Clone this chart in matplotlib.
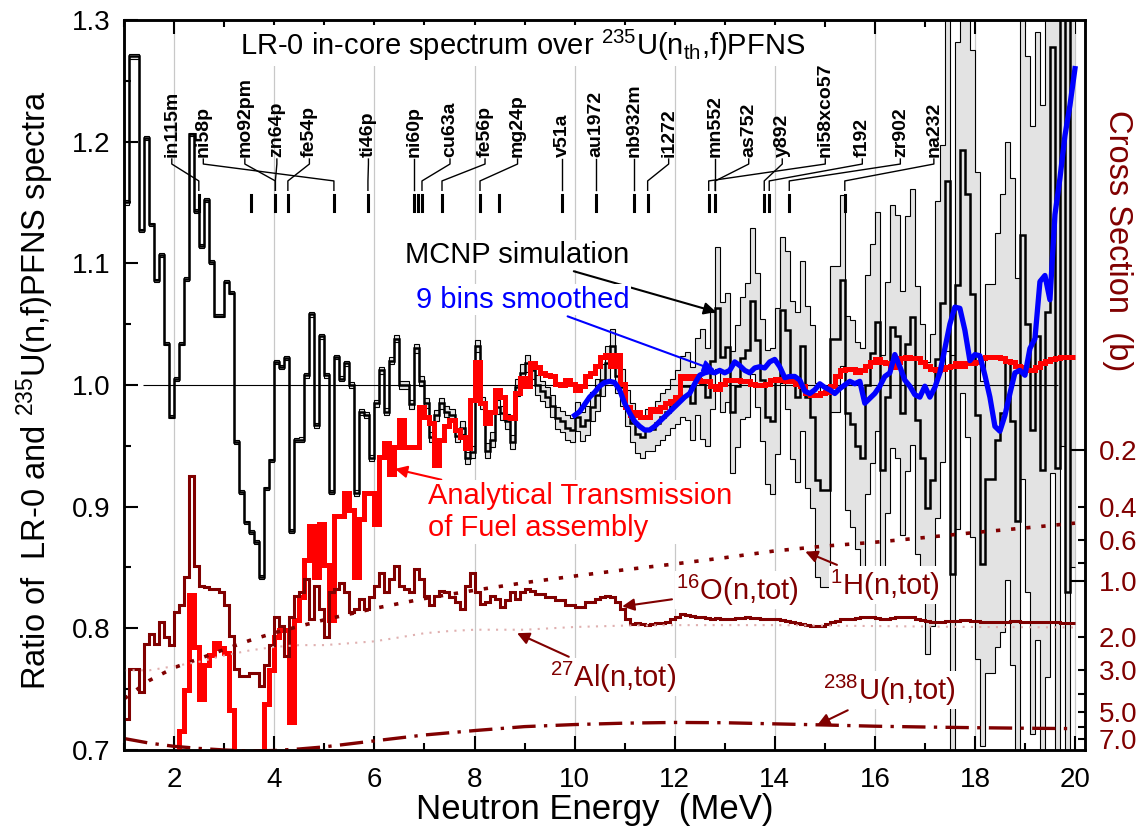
import numpy as np
import matplotlib
matplotlib.use('Agg')
import matplotlib.pyplot as plt
from matplotlib.ticker import FixedLocator, FixedFormatter, MultipleLocator, FormatStrFormatter

plt.rcParams['font.family'] = ['Liberation Sans', 'DejaVu Sans']
plt.rcParams['mathtext.fontset'] = 'custom'
plt.rcParams['mathtext.rm'] = 'Liberation Sans'
plt.rcParams['mathtext.it'] = 'Liberation Sans:italic'
plt.rcParams['mathtext.bf'] = 'Liberation Sans:bold'

DRED = '#800000'

# ---- MCNP ratio, 0.1 MeV bins from 1.0 to 20.0
mcnp = [
    1.15, 1.27, 1.27, 1.127, 1.203, 1.132, 1.086, 1.107, 1.034, 0.974,
    1.005, 1.034, 1.087, 1.206, 1.143, 1.114, 1.152, 1.101, 1.057, 1.057,
    1.085, 1.076, 0.953, 0.912, 0.887, 0.879, 0.871, 0.842, 0.915, 0.938,
    1.019, 1.015, 1.022, 0.880, 0.955, 0.955, 1.008, 1.058, 0.967, 1.040,
    1.008, 0.912, 1.023, 1.005, 1.018, 1.000, 0.911, 0.978, 0.975, 0.940,
    0.985, 1.012, 0.978, 1.020, 1.038, 1.000, 1.000, 0.984, 1.030, 1.003,
    0.985, 0.957, 0.975, 0.985, 0.978, 0.975, 0.958, 0.965, 0.940, 0.945,
    1.032, 0.985, 0.946, 0.955, 0.982, 0.977, 0.970, 0.953, 0.998, 1.010,
    1.018, 1.012, 1.000, 0.995, 0.990, 0.983, 0.973, 0.970, 0.965, 0.963,
    0.974, 0.966, 0.971, 0.982, 0.992, 1.004, 1.018, 1.032, 1.007, 0.998,
    0.981, 0.969, 0.960, 0.957, 0.963, 0.964, 0.969, 0.974, 0.978, 0.985,
    0.990, 0.999, 0.999, 0.985, 1.007, 1.001, 0.990, 1.020, 1.063, 1.023,
    1.031, 0.978, 0.999, 1.022, 1.029, 1.069, 1.037, 1.004, 0.974, 0.970,
    1.003, 1.062, 1.045, 1.004, 0.990, 1.032, 0.990, 0.974, 0.922, 0.914,
    0.914, 1.038, 1.038, 1.086, 0.977, 0.968, 0.950, 0.940, 1.000, 1.026,
    1.052, 0.930, 0.990, 1.048, 1.040, 0.977, 1.034, 1.056, 0.971, 0.940,
    0.899, 0.922, 1.021, 1.067, 1.168, 0.845, 1.082, 1.193, 1.157, 1.075,
    0.975, 0.853, 0.923, 0.923, 0.955, 0.977, 1.020, 0.970, 0.888, 1.123,
    1.050, 0.963, 1.040, 0.930, 1.060, 1.278, 0.932, 1.350, 0.830, 1.350,
]
mcnp_err = [
    0.002, 0.002, 0.002, 0.0015, 0.0015, 0.0015, 0.0015, 0.0015, 0.0015, 0.0015,
    0.0015, 0.0015, 0.0015, 0.0015, 0.0015, 0.0015, 0.0015, 0.0015, 0.0015, 0.0015,
    0.0015, 0.0015, 0.0015, 0.0015, 0.0015, 0.0015, 0.0015, 0.0015, 0.0015, 0.0015,
    0.0015, 0.0015, 0.0015, 0.0015, 0.0015, 0.002, 0.002, 0.002, 0.002, 0.002,
    0.002, 0.002, 0.002, 0.002, 0.002, 0.0025, 0.0025, 0.0025, 0.0025, 0.0025,
    0.003, 0.003, 0.003, 0.003, 0.003, 0.0035, 0.0035, 0.0035, 0.0035, 0.004,
    0.004, 0.004, 0.0045, 0.0045, 0.0045, 0.005, 0.005, 0.005, 0.005, 0.005,
    0.005, 0.005, 0.006, 0.006, 0.006, 0.006, 0.006, 0.006, 0.007, 0.007,
    0.007, 0.007, 0.008, 0.008, 0.008, 0.009, 0.009, 0.009, 0.010, 0.010,
    0.012, 0.012, 0.012, 0.012, 0.013, 0.013, 0.014, 0.014, 0.014, 0.015,
    0.015, 0.016, 0.016, 0.017, 0.017, 0.018, 0.018, 0.019, 0.019, 0.020,
    0.022, 0.025, 0.028, 0.030, 0.032, 0.045, 0.040, 0.040, 0.050, 0.045,
    0.045, 0.050, 0.050, 0.050, 0.055, 0.060, 0.055, 0.050, 0.055, 0.060,
    0.060, 0.060, 0.065, 0.065, 0.070, 0.070, 0.075, 0.075, 0.080, 0.080,
    0.080, 0.060, 0.060, 0.070, 0.080, 0.085, 0.085, 0.090, 0.090, 0.090,
    0.090, 0.095, 0.095, 0.100, 0.100, 0.100, 0.105, 0.105, 0.110, 0.110,
    0.120, 0.120, 0.130, 0.130, 0.140, 0.180, 0.200, 0.200, 0.200, 0.200,
    0.200, 0.150, 0.160, 0.160, 0.170, 0.180, 0.180, 0.200, 0.200, 0.200,
    0.220, 0.250, 0.250, 0.300, 0.300, 0.350, 0.400, 0.400, 0.500, 0.500,
]

# ---- analytical transmission, 0.1 MeV bins from 2.0 to 20.0
transm = [
    0.650, 0.716, 0.749, 0.827, 0.785, 0.742, 0.770, 0.778, 0.788, 0.784,
    0.780, 0.733, 0.650, 0.650, 0.650, 0.650, 0.650, 0.650, 0.738, 0.766,
    0.793, 0.799, 0.799, 0.723, 0.807, 0.826, 0.856, 0.884, 0.842, 0.886,
    0.852, 0.807, 0.892, 0.892, 0.911, 0.897, 0.842, 0.890, 0.911, 0.911,
    0.886, 0.941, 0.952, 0.927, 0.949, 0.971, 0.949, 0.949, 0.949, 0.982,
    0.974, 0.969, 0.934, 0.955, 0.966, 0.971, 0.963, 0.957, 0.948, 0.988,
    1.019, 0.985, 0.969, 0.978, 0.996, 0.990, 0.974, 0.973, 0.993, 1.006,
    0.999, 1.018, 1.015, 1.010, 1.008, 1.007, 1.001, 1.000, 1.004, 1.001,
    0.996, 0.999, 1.007, 1.010, 1.016, 1.023, 1.025, 1.016, 1.025, 1.001,
    0.982, 0.975, 0.978, 0.974, 0.974, 0.980, 0.979, 0.982, 0.985, 0.987,
    0.990, 1.007, 1.006, 1.007, 1.004, 1.003, 1.003, 0.999, 0.997, 1.001,
    1.004, 1.004, 1.004, 1.003, 1.003, 1.001, 1.000, 1.000, 1.001, 1.004,
    1.005, 1.004, 1.003, 1.003, 1.001, 0.999, 0.993, 0.992, 0.992, 0.993,
    0.994, 0.999, 1.007, 1.012, 1.013, 1.013, 1.011, 1.012, 1.016, 1.019,
    1.021, 1.019, 1.018, 1.015, 1.019, 1.022, 1.023, 1.022, 1.022, 1.019,
    1.016, 1.013, 1.012, 1.013, 1.015, 1.016, 1.018, 1.016, 1.018, 1.018,
    1.019, 1.022, 1.023, 1.023, 1.023, 1.022, 1.020, 1.019, 1.016, 1.015,
    1.012, 1.012, 1.015, 1.018, 1.020, 1.021, 1.022, 1.023, 1.023, 1.023,
]

# ---- 9 bins smoothed MCNP, points 10.0 .. 20.0
smooth = [
    0.975, 0.978, 0.984, 0.990, 0.994, 0.999, 1.002, 1.003, 1.002, 0.996,
    0.985, 0.977, 0.970, 0.966, 0.963, 0.963, 0.966, 0.970, 0.974, 0.978,
    0.982, 0.986, 0.990, 0.993, 1.001, 1.008, 1.010, 1.011, 1.010, 1.012,
    1.010, 1.012, 1.019, 1.016, 1.012, 1.010, 1.014, 1.015, 1.014, 1.019,
    1.021, 1.015, 1.006, 1.007, 1.007, 1.004, 0.995, 0.993, 0.996, 1.001,
    0.998, 0.996, 0.993, 0.997, 1.000, 1.003, 1.001, 1.003, 0.985, 0.989,
    0.993, 0.999, 1.007, 1.010, 1.025, 1.015, 1.004, 0.999, 0.992, 0.990,
    0.999, 0.990, 0.998, 1.010, 1.030, 1.050, 1.064, 1.063, 1.045, 1.020,
    1.025, 1.024, 1.008, 0.990, 0.966, 0.962, 0.975, 0.993, 1.010, 1.012,
    1.008, 1.030, 1.038, 1.085, 1.090, 1.070, 1.140, 1.170, 1.205, 1.230,
    1.260,
]

# ---- total cross sections (b)
o16_xs = [
    5.45, 2.95, 2.95, 3.93, 2.17, 1.92, 2.17, 1.66, 2.00, 2.20,
    1.47, 1.35, 0.955, 0.274, 0.83, 1.06, 1.08, 1.10, 1.10, 1.15,
    1.35, 1.96, 2.95, 3.20, 3.20, 3.10, 3.10, 3.62, 2.80, 2.20,
    1.56, 1.73, 2.50, 1.56, 1.20, 1.15, 0.976, 1.60, 1.06, 1.41,
    2.00, 1.15, 1.10, 1.02, 1.15, 1.47, 1.41, 1.25, 1.41, 1.22,
    1.06, 0.90, 1.15, 0.976, 0.83, 1.06, 1.10, 1.15, 0.86, 0.976,
    1.20, 1.35, 1.20, 1.13, 1.15, 1.22, 1.30, 1.41, 1.06, 0.90,
    1.15, 1.32, 1.30, 1.20, 1.25, 1.38, 1.27, 1.15, 1.25, 1.15,
    1.10, 1.13, 1.17, 1.17, 1.22, 1.22, 1.27, 1.27, 1.35, 1.35,
    1.38, 1.38, 1.30, 1.30, 1.25, 1.22, 1.20, 1.22, 1.30, 1.41,
    1.60, 1.70, 1.68, 1.70, 1.72, 1.70, 1.68, 1.68, 1.66, 1.60,
    1.55, 1.50, 1.52, 1.54, 1.55, 1.56, 1.58, 1.60, 1.58, 1.60,
    1.60, 1.60, 1.58, 1.57, 1.56, 1.57, 1.58, 1.60, 1.60, 1.59,
    1.60, 1.62, 1.64, 1.66, 1.68, 1.70, 1.72, 1.73, 1.74, 1.73,
    1.70, 1.66, 1.64, 1.60, 1.60, 1.60, 1.58, 1.56, 1.55, 1.55,
    1.57, 1.60, 1.59, 1.57, 1.56, 1.56, 1.55, 1.56, 1.60, 1.62,
    1.64, 1.66, 1.66, 1.65, 1.64, 1.64, 1.63, 1.62, 1.62, 1.63,
    1.64, 1.65, 1.66, 1.66, 1.66, 1.65, 1.65, 1.64, 1.64, 1.65,
    1.65, 1.66, 1.66, 1.66, 1.66, 1.66, 1.66, 1.67, 1.67, 1.67,
]
h1_e = [1, 1.5, 2, 2.5, 3, 3.5, 4, 5, 6, 7, 8, 9, 10, 11, 12, 13, 14, 15, 16, 17, 18, 19, 20]
h1_xs = [4.26, 3.40, 2.90, 2.60, 2.32, 2.08, 1.89, 1.61, 1.40, 1.24, 1.12, 1.02, 0.94,
         0.87, 0.81, 0.75, 0.69, 0.65, 0.62, 0.585, 0.55, 0.52, 0.49]
u238_e = [1, 1.5, 2, 2.5, 3, 3.5, 4, 4.5, 5, 6, 7, 8, 9, 10, 11, 12, 13, 14, 15, 16, 17, 18, 19, 20]
u238_xs = [6.95, 7.35, 7.65, 7.85, 8.0, 8.1, 8.05, 7.9, 7.7, 7.15, 6.65, 6.3, 6.0, 5.85,
           5.75, 5.7, 5.72, 5.8, 5.88, 5.97, 6.03, 6.08, 6.12, 6.15]
al27_e = [1, 1.5, 2, 2.5, 3, 3.5, 4, 4.5, 5, 5.5, 6, 6.5, 7, 7.5, 8, 9, 10, 11, 12, 14, 16, 18, 20]
al27_xs = [3.0, 3.0, 2.85, 2.7, 2.5, 2.35, 2.25, 2.2, 2.2, 2.15, 2.1, 2.0, 1.9, 1.85,
           1.82, 1.82, 1.76, 1.73, 1.72, 1.72, 1.74, 1.76, 1.77]

# ---- dosimetry reactions: label, label position (MeV), median energy tick (MeV)
reactions = ['in115m', 'ni58p', 'mo92pm', 'zn64p', 'fe54p', 'ti46p', 'ni60p', 'cu63a',
             'fe56p', 'mg24p', 'v51a', 'au1972', 'nb932m', 'i1272', 'mn552', 'as752',
             'y892', 'ni58xco57', 'f192', 'zr902', 'na232']
label_e = [1.95, 2.58, 3.41, 4.05, 4.70, 5.88, 6.79, 7.51, 8.21, 8.86, 9.75, 10.43,
           11.19, 11.88, 12.81, 13.48, 14.15, 15.01, 15.75, 16.51, 17.18]
link_e = [2.49, 5.19, 4.02, 4.02, 4.27, 5.87, 6.79, 6.95, 7.35, 8.11, 9.75, 10.43,
          11.19, 11.46, 12.81, 12.81, 13.79, 12.68, 13.89, 14.29, 15.40]
tick_e = [2.49, 3.53, 4.02, 4.27, 5.19, 5.87, 6.79, 6.87, 6.95, 7.35, 8.11, 8.48,
          9.75, 10.43, 11.19, 11.46, 12.68, 12.81, 13.79, 13.89, 14.29, 15.40]

e_mcnp = np.round(np.arange(len(mcnp) + 1) * 0.1 + 1.0, 2)
e_tr = np.round(np.arange(len(transm) + 1) * 0.1 + 2.0, 2)
e_sm = np.round(np.arange(len(smooth)) * 0.1 + 10.0, 2)
e_o = np.round(np.arange(len(o16_xs) + 1) * 0.1 + 1.0, 2)

mcnp = np.array(mcnp)
err = np.array(mcnp_err)

fig = plt.figure(figsize=(11.41, 8.39), dpi=100)
ax = fig.add_axes([0.1089, 0.1061, 0.8420, 0.8701])
ax.set_xlim(1, 20.2)
ax.set_ylim(0.7, 1.3)

ax.grid(axis='x', color='#c8c8c8', lw=0.9, zorder=0)
ax.set_axisbelow(True)

# MCNP with uncertainty band
ax.stairs(mcnp + err, e_mcnp, baseline=mcnp - err, fill=True, color='#e3e3e3', zorder=1)
ax.stairs(mcnp + err, e_mcnp, baseline=None, color='black', lw=0.8, zorder=2)
ax.stairs(mcnp - err, e_mcnp, baseline=None, color='black', lw=0.8, zorder=2)
ax.stairs(mcnp, e_mcnp, baseline=None, color='black', lw=1.8, zorder=3)
ax.hlines(1.0, 1.37, 19.67, color='black', lw=0.8, zorder=3)

ax.stairs(transm, e_tr, baseline=None, color='#ff0000', lw=3.6, zorder=4)
ax.plot(e_sm, smooth, color='#0000ff', lw=3.8, zorder=5)

# reaction labels with leaders
for name, xl, xt in zip(reactions, label_e, link_e):
    ax.text(xl, 1.1874, name, rotation=90, ha='center', va='bottom',
            fontsize=14, fontweight='bold', zorder=6)
    ax.plot([xl, xl, xt, xt], [1.1857, 1.1816, 1.1677, 1.160], color='black', lw=1.0, zorder=6)
for xt in tick_e:
    ax.plot([xt, xt], [1.1562, 1.143], color='black', lw=2.2, zorder=6)

ax.text(3.31, 1.279, 'LR-0 in-core spectrum over $^{235}$U(n$_{\\mathrm{th}}$,f)PFNS',
        fontsize=21, ha='left', va='center', zorder=7,
        bbox=dict(facecolor='white', edgecolor='none', pad=2))

# axis styling
for s in ax.spines.values():
    s.set_linewidth(1.8)
ax.set_xticks(range(2, 21, 2))
ax.xaxis.set_minor_locator(MultipleLocator(1))
ax.set_yticks([0.7, 0.8, 0.9, 1.0, 1.1, 1.2, 1.3])
ax.yaxis.set_major_formatter(FormatStrFormatter('%.1f'))
ax.yaxis.set_minor_locator(MultipleLocator(0.05))
ax.tick_params(which='both', direction='in', top=True, right=False, width=1.5, labelsize=20)
ax.tick_params(which='major', length=10)
ax.tick_params(which='minor', length=5)
ax.tick_params(axis='y', pad=10)
ax.tick_params(axis='x', pad=12)

# cross-section axis
ax2 = ax.twinx()
ax2.set_yscale('log')
ax2.set_ylim(8.0, 0.001)
ax2.stairs(o16_xs, e_o, baseline=None, color=DRED, lw=2.2)
ax2.plot(h1_e, h1_xs, color=DRED, lw=2.6, linestyle=(0, (1.2, 3)))
ax2.plot(al27_e, al27_xs, color='#e0b0b0', lw=1.5, linestyle=(0, (1, 3)))
ax2.plot(u238_e, u238_xs, color=DRED, lw=2.4, linestyle=(0, (7, 2.5, 1, 2.5)))
ax2.yaxis.set_major_locator(FixedLocator([0.2, 1.0]))
ax2.yaxis.set_major_formatter(FixedFormatter(['0.2', '1.0']))
ax2.yaxis.set_minor_locator(FixedLocator([0.4, 0.6, 0.8, 2, 3, 4, 5, 6, 7]))
ax2.yaxis.set_minor_formatter(FixedFormatter(['0.4', '0.6', '', '2.0', '3.0', '', '5.0', '', '7.0']))
ax2.tick_params(which='both', direction='in', width=1.5, labelsize=20, labelcolor=DRED, pad=10)
ax2.tick_params(which='major', length=10)
ax2.tick_params(which='minor', length=5)
for s in ax2.spines.values():
    s.set_linewidth(1.8)

# annotations
def note(txt, tip, pos, color):
    ax2.annotate(txt, xy=tip, xycoords=ax.transData, xytext=pos, textcoords=ax.transData,
                 fontsize=21, color=color, ha='left', va='center', zorder=8,
                 bbox=dict(facecolor='white', edgecolor='none', pad=1),
                 arrowprops=dict(arrowstyle='-|>', color=color, lw=1.5,
                                 mutation_scale=18, shrinkA=2, shrinkB=0))

note('MCNP simulation', (12.83, 1.06), (6.61, 1.1068), 'black')
note('9 bins smoothed', (12.81, 1.012), (6.83, 1.0699), '#0000ff')
note('Analytical Transmission\nof Fuel assembly', (6.41, 0.931), (7.07, 0.8956), '#ff0000')
note('$^{16}$O(n,tot)', (10.95, 0.818), (12.03, 0.8315), DRED)
note('$^{1}$H(n,tot)', (14.61, 0.863), (15.11, 0.8356), DRED)
note('$^{27}$Al(n,tot)', (8.85, 0.796), (9.51, 0.760), DRED)
note('$^{238}$U(n,tot)', (14.85, 0.7205), (14.97, 0.7493), DRED)

fig.text(0.5215, 0.0346, 'Neutron Energy  (MeV)', fontsize=25, ha='center', va='center')
fig.text(0.0307, 0.535, 'Ratio of  LR-0 and $^{235}$U(n,f)PFNS spectra', fontsize=23.5,
         rotation=90, ha='center', va='center')
fig.text(0.979, 0.7128, 'Cross Section  (b)', fontsize=23.5, rotation=270,
         ha='center', va='center', color=DRED)

fig.savefig('out.png', dpi=100)
